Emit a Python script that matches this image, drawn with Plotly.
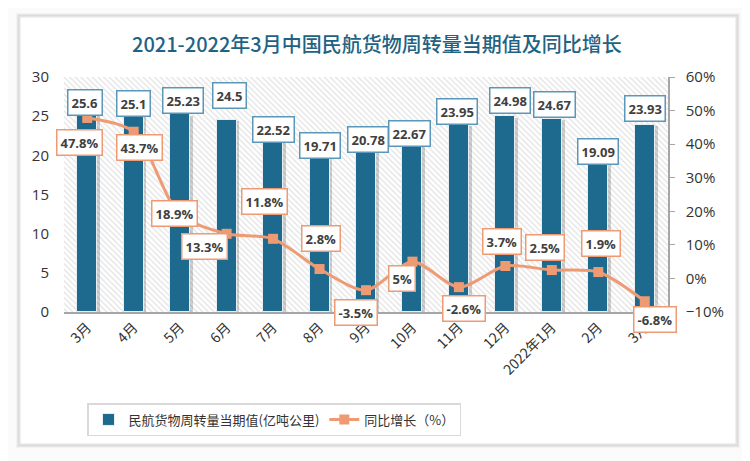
import plotly.graph_objects as go

# ---------------- data ----------------
tick_labels = ["3月", "4月", "5月", "6月", "7月", "8月", "9月", "10月", "11月", "12月", "2022年1月", "2月", "3月"]
cargo_values = [25.6, 25.1, 25.23, 24.5, 22.52, 19.71, 20.78, 22.67, 23.95, 24.98, 24.67, 19.09, 23.93]
yoy_growth = [47.8, 43.7, 18.9, 13.3, 11.8, 2.8, -3.5, 5, -2.6, 3.7, 2.5, 1.9, -6.8]
bar_name = "民航货物周转量当期值(亿吨公里)"
line_name = "同比增长（%）"
title_text = "2021-2022年3月中国民航货物周转量当期值及同比增长"

# label offsets in pixels (dx right, dy down) – style only
bar_label_off = [(-2, -9), (0, -12), (3, -14), (3, -25), (0, -6), (0, -12), (2, -10),
                 (-3, -1), (-2, -13), (5, -16), (3, -14), (0, -11), (0, -16)]
line_label_off = [(-8, 25), (6, 16), (-6, -1), (-22, 13), (-9, -37), (1, -31), (-10, 22),
                  (-10, 17), (5, 21), (-3, -25), (-7, -23), (3, -29), (10, 18)]

OFF = 8                       # page body margin
W, H = 750 - OFF, 461 - OFF
ML, MT = 64 - OFF, 77 - OFF
MR = W - (668 - OFF)
MB = H - (312 - OFF)
PW, PH = W - ML - MR, H - MT - MB

def px(xp):   # reference window pixel -> paper x
    return (xp - OFF - ML) / PW

def py(yp):   # reference window pixel -> paper y
    return (H - MB - (yp - OFF)) / PH

BAR_COLOR = "#1D6A8E"
LINE_COLOR = "#EE9B74"
xs = list(range(len(tick_labels)))

fig = go.Figure()

# hatched plot-area background
fig.add_trace(go.Bar(
    x=xs, y=[30] * len(xs), width=1, yaxis="y",
    marker=dict(color="white", line=dict(width=0),
                pattern=dict(shape="\\", fgcolor="#c4c4c4", bgcolor="white", size=4, solidity=0.3)),
    hoverinfo="skip", showlegend=False))

# bar shadows
fig.add_trace(go.Bar(
    x=xs, y=[v - 0.15 for v in cargo_values], width=0.43, offset=-0.215 + 0.06, yaxis="y",
    marker=dict(color="rgba(0,0,0,0.18)", line=dict(width=0)),
    hoverinfo="skip", showlegend=False))

fig.add_trace(go.Bar(
    x=xs, y=cargo_values, width=0.43, offset=-0.215, yaxis="y", name=bar_name,
    marker=dict(color=BAR_COLOR, line=dict(color="#e8eef2", width=1))))

fig.add_trace(go.Scatter(
    x=xs, y=yoy_growth, yaxis="y2", name=line_name, mode="lines+markers",
    line=dict(color=LINE_COLOR, width=3, shape="spline", smoothing=0.8),
    marker=dict(symbol="square", size=10, color=LINE_COLOR)))

annotations = []
label_font = dict(family="Open Sans, DejaVu Sans, sans-serif", size=13, color="#404040")
for i, v in enumerate(cargo_values):
    dx, dy = bar_label_off[i]
    annotations.append(dict(
        x=i, y=v, xref="x", yref="y", text=f"<b>{v:g}</b>", showarrow=False,
        xshift=dx, yshift=-dy, font=label_font, bgcolor="white",
        bordercolor="#5B97B8", borderwidth=1.5, borderpad=3))
for i, v in enumerate(yoy_growth):
    dx, dy = line_label_off[i]
    annotations.append(dict(
        x=i, y=v, xref="x", yref="y2", text=f"<b>{v:g}%</b>", showarrow=False,
        xshift=dx, yshift=-dy, font=label_font, bgcolor="white",
        bordercolor=LINE_COLOR, borderwidth=1.5, borderpad=3))

annotations.append(dict(
    x=px(377), y=py(44), xref="paper", yref="paper", text=title_text, showarrow=False,
    font=dict(family="Noto Sans CJK SC", size=20, color="#1F6384", weight=500),
    xanchor="center", yanchor="middle"))

shapes = []
# card shadow and border
for k, a in [(3, 0.03), (2, 0.05), (1, 0.08)]:
    shapes.append(dict(type="rect", xref="paper", yref="paper",
                       x0=px(20 - k), x1=px(736 + k), y0=py(444 + k), y1=py(17 - k),
                       line=dict(color=f"rgba(0,0,0,{a})", width=2), layer="below"))
shapes.append(dict(type="rect", xref="paper", yref="paper",
                   x0=px(20), x1=px(736), y0=py(444), y1=py(17),
                   line=dict(color="#e2e2e2", width=1), fillcolor="white", layer="below"))

fig.update_layout(
    width=W, height=H,
    margin=dict(l=ML, r=MR, t=MT, b=MB, autoexpand=False),
    paper_bgcolor="#fbfbfb", plot_bgcolor="rgba(0,0,0,0)",
    barmode="overlay", bargap=0,
    font=dict(family="Noto Sans CJK SC", color="#333333"),
    xaxis=dict(range=[-0.5, 12.5], tickmode="array", tickvals=xs, ticktext=tick_labels,
               tickangle=-45, tickfont=dict(size=14, color="#333333"),
               showline=True, linecolor="#a6a6a6", linewidth=1.5, showgrid=False,
               ticks="", zeroline=False, fixedrange=True),
    yaxis=dict(range=[0, 30], dtick=5, tickfont=dict(size=15, color="#333333", family="Open Sans"),
               showgrid=False, zeroline=False, showline=False, ticks="", ticklen=0,
               ticklabelstandoff=14),
    yaxis2=dict(range=[-10, 60], dtick=10, overlaying="y", side="right", ticksuffix="%",
                tickfont=dict(size=15, color="#333333", family="Open Sans"),
                showgrid=False, zeroline=False, showline=True, linecolor="#a6a6a6",
                linewidth=1.5, ticks="outside", ticklen=5, tickcolor="#a6a6a6",
                ticklabelstandoff=8),
    legend=dict(orientation="h", x=px(87), xanchor="left", y=py(403), yanchor="top",
                bordercolor="#d9d9d9", borderwidth=1.5, bgcolor="white",
                font=dict(size=13, color="#333333", family="Noto Sans CJK SC"),
                itemwidth=30, traceorder="normal"),
    annotations=annotations, shapes=shapes, showlegend=True,
)

fig.write_html("out.html")
